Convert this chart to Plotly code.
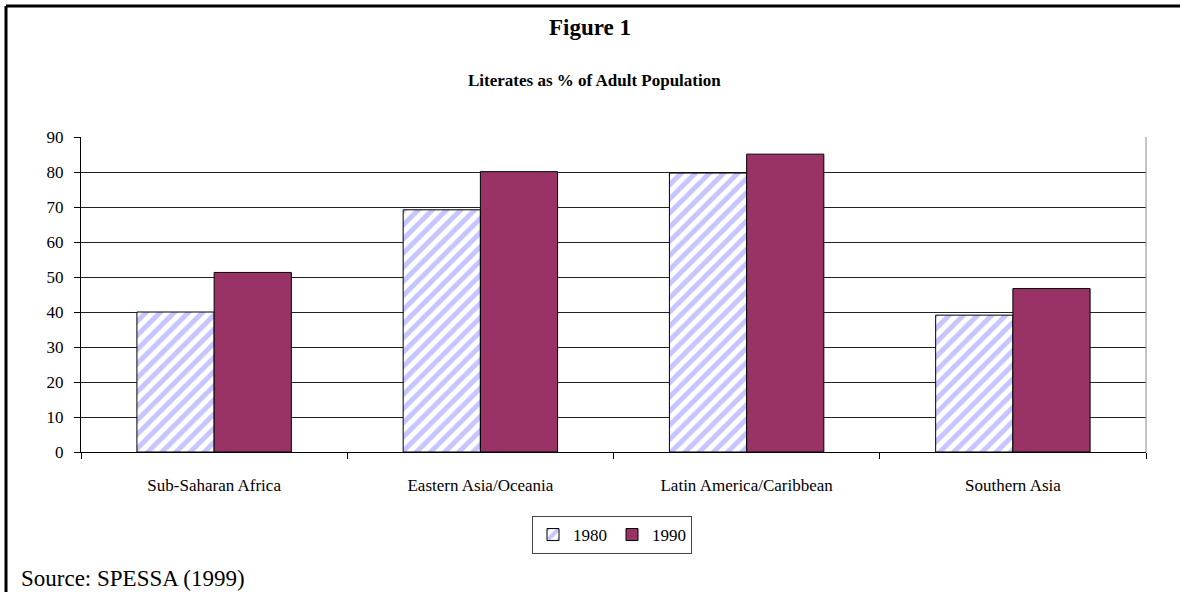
import plotly.graph_objects as go

# Adult literacy by region (percent)
regions = ["Sub-Saharan Africa", "Eastern Asia/Oceania", "Latin America/Caribbean", "Southern Asia"]
lit_1980 = [40.0, 69.2, 79.7, 39.1]
lit_1990 = [51.3, 80.1, 85.1, 46.7]
y_ticks = [0, 10, 20, 30, 40, 50, 60, 70, 80, 90]

W, H = 1180, 592
L, R, T, B = 81, 34, 137, 140
pw, ph = W - L - R, H - T - B

def px_x(px):
    return (px - L) / pw

def px_y(py):
    return (H - B - py) / ph

serif = "Liberation Serif, Times New Roman, serif"

fig = go.Figure()
fig.add_trace(go.Bar(
    name="1980", x=regions, y=lit_1980,
    marker=dict(color="white", line=dict(color="black", width=1),
                pattern=dict(shape="/", fgcolor="#8c8cff", bgcolor="white",
                             size=10, solidity=0.5)),
))
fig.add_trace(go.Bar(
    name="1990", x=regions, y=lit_1990,
    marker=dict(color="#993366", line=dict(color="black", width=1)),
))

fig.update_layout(
    width=W, height=H, autosize=False,
    margin=dict(l=L, r=R, t=T, b=B, pad=0),
    paper_bgcolor="white", plot_bgcolor="white",
    barmode="group", bargap=0.42, bargroupgap=0,
    font=dict(family=serif, size=16, color="black"),
    showlegend=True,
    legend=dict(orientation="h", x=px_x(612), xanchor="center",
                y=px_y(516), yanchor="top",
                bordercolor="#444", borderwidth=1,
                font=dict(family=serif, size=17),
                itemwidth=30, tracegroupgap=0, traceorder="normal"),
    xaxis=dict(showline=True, linecolor="black", linewidth=1,
               ticks="outside", tickson="boundaries", ticklen=6, tickcolor="black",
               ticklabelstandoff=18, tickfont=dict(size=17)),
    yaxis=dict(range=[0, 90], tickvals=y_ticks, showline=True, linecolor="black",
               linewidth=1, ticks="outside", ticklen=6, tickcolor="black",
               ticklabelstandoff=7,
               showgrid=True, gridcolor="#222", gridwidth=1, zeroline=False,
               tickfont=dict(size=17)),
    shapes=[
        # frame around the figure (top and left)
        dict(type="line", xref="paper", yref="paper", x0=px_x(6), x1=px_x(1181),
             y0=px_y(6), y1=px_y(6), line=dict(color="black", width=3)),
        dict(type="line", xref="paper", yref="paper", x0=px_x(6), x1=px_x(6),
             y0=px_y(6), y1=px_y(593), line=dict(color="black", width=3)),
        # right edge of the plot area
        dict(type="line", xref="paper", yref="paper", x0=1, x1=1, y0=0, y1=1,
             line=dict(color="#888", width=1)),
    ],
    annotations=[
        dict(text="<b>Figure 1</b>", xref="paper", yref="paper", x=px_x(590), y=px_y(28),
             xanchor="center", yanchor="middle", showarrow=False,
             font=dict(family=serif, size=23)),
        dict(text="<b>Literates as % of Adult Population</b>", xref="paper", yref="paper",
             x=px_x(594), y=px_y(80), xanchor="center", yanchor="middle", showarrow=False,
             font=dict(family=serif, size=17)),
        dict(text="Source: SPESSA (1999)", xref="paper", yref="paper",
             x=px_x(19), y=px_y(578), xanchor="left", yanchor="middle", showarrow=False,
             font=dict(family=serif, size=23)),
    ],
)

fig.write_html("out.html")
